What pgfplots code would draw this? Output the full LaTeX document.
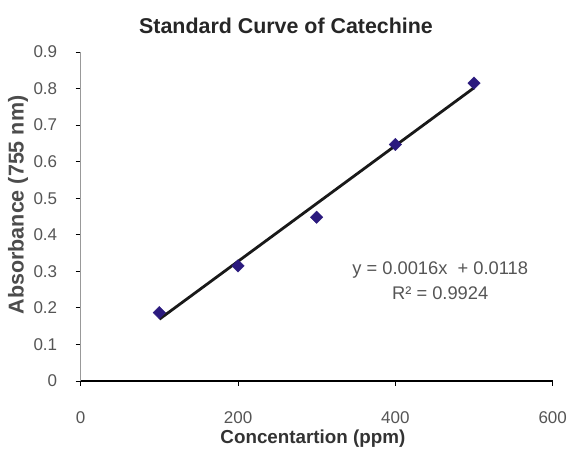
\documentclass[border=0pt]{standalone}
\usepackage{fontspec}
\setmainfont{Liberation Sans}
\usepackage{pgfplots}
\pgfplotsset{compat=1.18}
\definecolor{mk}{HTML}{2B1A7E}
\definecolor{tk}{HTML}{555555}
\begin{document}
\begin{tikzpicture}[x=1pt,y=1pt]
\useasboundingbox (0,0) rectangle (568,449);
\begin{axis}[
  at={(80.7pt,68pt)}, anchor=south west,
  scale only axis, width=472pt, height=329pt,
  xmin=0, xmax=600, ymin=0, ymax=0.9,
  axis x line=bottom, axis y line=left,
  x axis line style={-, black, line width=1.2pt},
  y axis line style={-, gray!80, line width=1pt},
  xtick={0,200,400,600},
  ytick={0,0.1,0.2,0.3,0.4,0.5,0.6,0.7,0.8,0.9},
  tick align=outside,
  major tick length=5pt,
  xtick style={black, line width=0.8pt},
  ytick style={black, line width=0.8pt},
  /pgf/number format/assume math mode=true,
  yticklabel style={/pgf/number format/fixed, /pgf/number format/precision=1, font=\fontsize{17}{19}\selectfont, text=tk, xshift=-15pt},
  xticklabel style={font=\fontsize{17}{19}\selectfont, text=tk, yshift=-22pt},
  title={Standard Curve of Catechine},
  title style={at={(0.435,1)}, anchor=center, yshift=20.5pt, font=\fontsize{21.4}{24}\selectfont\bfseries, text=black!85},
  xlabel={Concentartion (ppm)},
  xlabel style={at={(0.492,0)}, anchor=center, yshift=-57.5pt, font=\fontsize{18.8}{21}\selectfont\bfseries, text=black!80},
  ylabel={Absorbance (755 nm)},
  ylabel style={at={(-0.1328,0.535)}, anchor=center, font=\fontsize{21.5}{24}\selectfont\bfseries, text=black!70},
  clip=false,
]
\addplot[only marks, mark=square*, mark size=4.4pt, mark options={rotate=45, fill=mk, draw=mk}]
  coordinates {(100,0.187) (200,0.315) (300,0.448) (400,0.647) (500,0.815)};
\addplot[black!90, line width=2.8pt] coordinates {(100,0.169) (500,0.802)};
\node[text=tk, font=\fontsize{18.3}{20}\selectfont] at (axis cs:457,0.304) {y = 0.0016x\ \ + 0.0118};
\node[text=tk, font=\fontsize{18.3}{20}\selectfont] at (axis cs:457,0.241) {R² = 0.9924};
\end{axis}
\end{tikzpicture}
\end{document}
